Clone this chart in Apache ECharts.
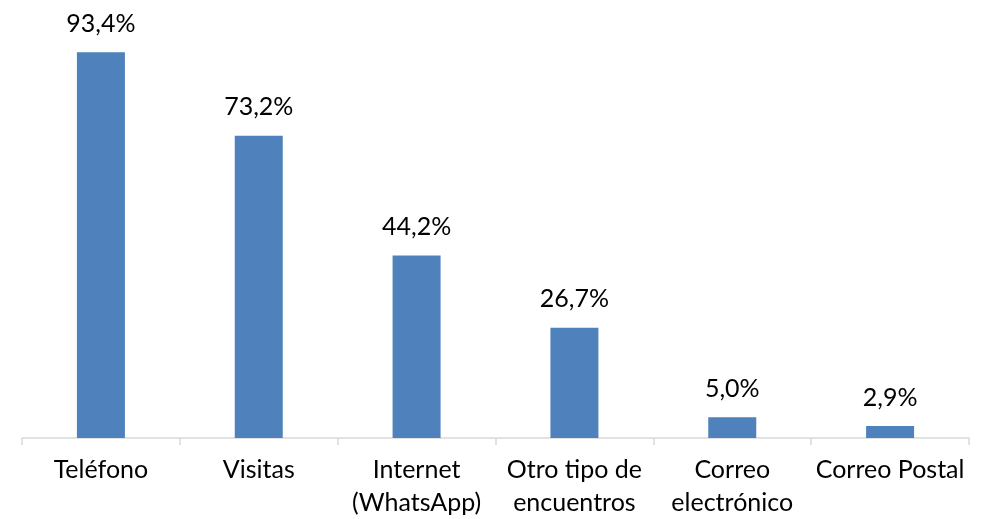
<!DOCTYPE html>
<html><head><meta charset="utf-8">
<script src="https://cdn.jsdelivr.net/npm/echarts@6/dist/echarts.min.js"></script>
<style>html,body{margin:0;padding:0;background:#fff}#c{width:983px;height:519px}</style>
</head><body><div id="c"></div>
<script>
const categories = ["Teléfono", "Visitas", "Internet\n(WhatsApp)", "Otro tipo de\nencuentros", "Correo\nelectrónico", "Correo Postal"];
const values = [93.4, 73.2, 44.2, 26.7, 5.0, 2.9];

const chart = echarts.init(document.getElementById('c'));
chart.setOption({
  animation: false,
  grid: {left: 22, right: 14, top: 25, bottom: 80},
  xAxis: {
    type: 'category', data: categories,
    axisLine: {lineStyle: {color: '#d9d9d9', width: 1.5}},
    axisTick: {show: true, length: 7, lineStyle: {color: '#d9d9d9', width: 1.5}},
    axisLabel: {color: '#000', fontFamily: 'Lato', fontSize: 25, lineHeight: 33, margin: 15, interval: 0}
  },
  yAxis: {type: 'value', min: 0, max: 100, show: false, splitLine: {show: false}},
  series: [{
    type: 'bar', data: values, barWidth: 48,
    itemStyle: {color: '#4F81BD'},
    label: {show: true, position: 'top', distance: 16, color: '#000', fontFamily: 'Lato', fontSize: 25,
      formatter: p => p.value.toFixed(1).replace('.', ',') + '%'}
  }]
});
</script></body></html>
